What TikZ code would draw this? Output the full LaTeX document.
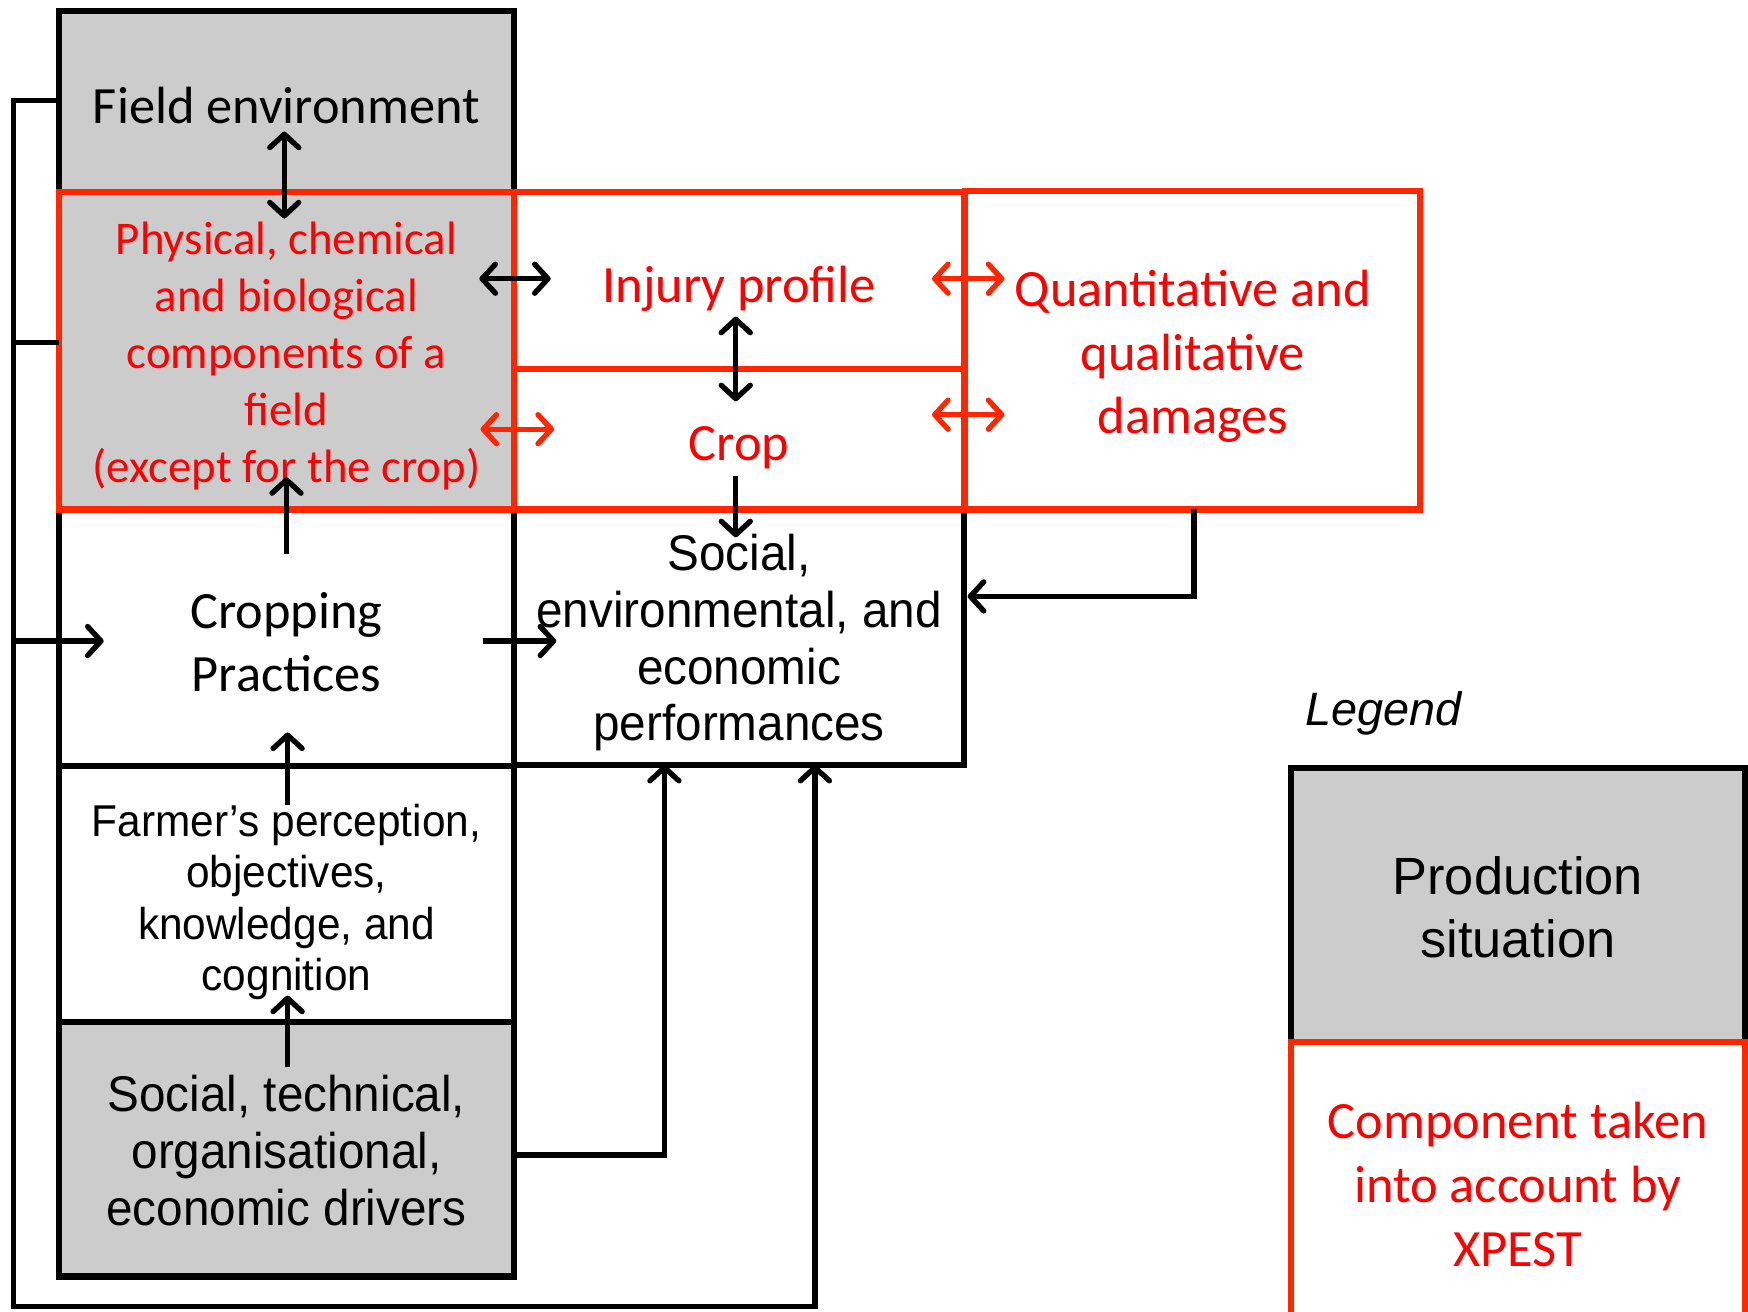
\documentclass[tikz,border=0pt]{standalone}
\usepackage{fontspec}
\setmainfont{Carlito}
\newfontfamily\arialn[FakeStretch=0.95]{Liberation Sans}
\newfontfamily\arial{Liberation Sans}
\usetikzlibrary{arrows.meta,calc}
\definecolor{bred}{RGB}{255,38,0}
\definecolor{tred}{RGB}{255,0,0}
\definecolor{pgrey}{RGB}{204,204,204}
\newcommand{\shiftedtext}[2]{\raisebox{-#1pt}[\height][\depth]{\parbox{400pt}{\centering #2}}}
\begin{document}
\begin{tikzpicture}[x=1pt,y=-1pt,
  >={Straight Barb[length=12pt,width=26pt,round]},
  blackbox/.style={draw=black,line width=5.5pt,inner sep=0pt,align=center},
  redbox/.style={draw=bred,line width=5.5pt,inner sep=0pt,align=center,text=tred},
  greyfill/.style={fill=pgrey},
  conn/.style={line width=4.8pt,black},
  rconn/.style={line width=4.8pt,bred},
  cal/.style={font=\fontsize{47}{57}\selectfont},
  calp/.style={font=\fontsize{42}{51}\selectfont},
  narrowbig/.style={font=\arialn\fontsize{45}{51}\selectfont},
  narrowsmall/.style={font=\arialn\fontsize{40}{46}\selectfont}
]
\clip (0,0) rectangle (1568,1176);
\fill[white] (0,0) rectangle (1568,1176);

% black boxes
\node[blackbox,greyfill,cal,minimum width=408pt,minimum height=162pt] (fe) at (257,91) {\shiftedtext{4}{Field environment}};
\node[blackbox,cal,minimum width=408pt,minimum height=230pt] (cp) at (257,572) {\shiftedtext{4}{Cropping\\Practices}};
\node[blackbox,narrowsmall,minimum width=408pt,minimum height=230pt] (fa) at (257,802) {\shiftedtext{7}{Farmer’s perception,\\objectives,\\knowledge, and\\cognition}};
\node[blackbox,greyfill,narrowbig,minimum width=408pt,minimum height=228pt] (st) at (257,1031) {\shiftedtext{1}{Social, technical,\\organisational,\\economic drivers}};
\node[blackbox,narrowbig,minimum width=404pt,minimum height=229pt] (pf) at (663,571.5) {\shiftedtext{5}{Social,\\environmental, and\\economic\\performances}};

% red boxes
\node[redbox,greyfill,calp,minimum width=408pt,minimum height=285pt] (ph) at (257,314.5) {\shiftedtext{5}{Physical, chemical\\and biological\\components of a\\field\\(except for the crop)}};
\node[redbox,cal,minimum width=404pt,minimum height=159pt] (ip) at (663,251.5) {\shiftedtext{8}{Injury profile}};
\node[redbox,cal,minimum width=404pt,minimum height=126pt] (cr) at (663,394) {\shiftedtext{8}{Crop}};
\node[redbox,cal,minimum width=408pt,minimum height=286pt] (qd) at (1070,314) {\shiftedtext{6}{Quantitative and\\qualitative\\damages}};

% legend
\node[font=\arial\itshape\fontsize{42}{50}\selectfont,inner sep=0pt] (lg) at (1241,640) {Legend};
\node[blackbox,greyfill,font=\arial\fontsize{47}{57}\selectfont,minimum width=407pt,minimum height=246pt] (ps) at (1361.5,812) {\shiftedtext{2}{Production\\situation}};
\node[redbox,cal,minimum width=407pt,minimum height=255pt] (ct) at (1361.5,1062.5) {\shiftedtext{0}{Component taken\\into account by\\XPEST}};

% coordinates for arrow ends
\coordinate (a1) at (255,118); \coordinate (a2) at (255,196);
\coordinate (b1) at (430,250); \coordinate (b2) at (494,250);
\coordinate (c1) at (431,385); \coordinate (c2) at (497,385);
\coordinate (d1) at (660,284); \coordinate (d2) at (660,360);
\coordinate (e1) at (836,250); \coordinate (e2) at (901,250);
\coordinate (f1) at (836,372); \coordinate (f2) at (901,372);
\coordinate (g1) at (660,427); \coordinate (g2) at (660,482);
\coordinate (h1) at (257,497); \coordinate (h2) at (257,428);
\coordinate (i1) at (433,575); \coordinate (i2) at (499,575);
\coordinate (j1) at (258,722); \coordinate (j2) at (258,657);
\coordinate (k1) at (258,957); \coordinate (k2) at (258,893);
\coordinate (stout) at (461,1036); \coordinate (pfin1) at (596,686);
\coordinate (qdout) at (1071,457); \coordinate (pfin2) at (868,535);
\coordinate (fbfe) at (53,90); \coordinate (fbph) at (53,307);
\coordinate (fbcp) at (93,575); \coordinate (pfin3) at (731,686);
\coordinate (fbx1) at (12,90); \coordinate (fbx2) at (12,307);
\coordinate (fbx3) at (12,575); \coordinate (fbx4) at (12,1172);

% connectors
\draw[conn,<->] (a1) -- (a2);
\draw[conn,<->] (b1) -- (b2);
\draw[rconn,<->] (c1) -- (c2);
\draw[conn,<->] (d1) -- (d2);
\draw[rconn,<->] (e1) -- (e2);
\draw[rconn,<->] (f1) -- (f2);
\draw[conn,->] (g1) -- (g2);
\draw[conn,->] (h1) -- (h2);
\draw[conn,->] (i1) -- (i2);
\draw[conn,->] (j1) -- (j2);
\draw[conn,->] (k1) -- (k2);
\draw[conn,->] (stout) -| (pfin1);
\draw[conn,->] (qdout) |- (pfin2);
\draw[conn,->,line join=miter] (fbfe) -- (fbx1) -- (fbx4) -| (pfin3);
\draw[conn] (fbx2) -- (fbph);
\draw[conn,->] (fbx3) -- (fbcp);
\end{tikzpicture}
\end{document}
